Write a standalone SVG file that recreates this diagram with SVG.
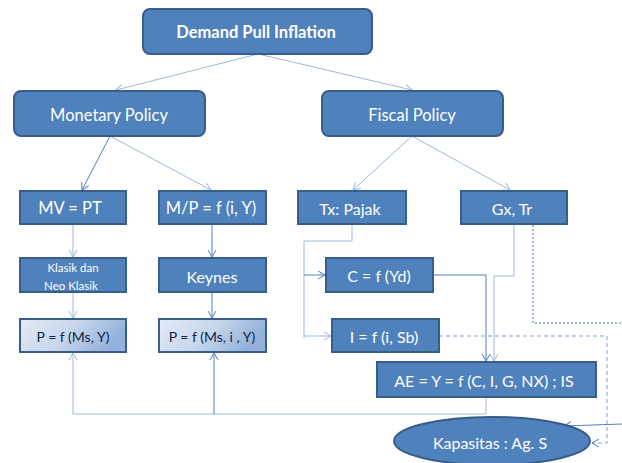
<svg xmlns="http://www.w3.org/2000/svg" width="622" height="463" viewBox="0 0 622 463">
<defs>
<linearGradient id="pg" x1="0" y1="0" x2="1" y2="0.3">
<stop offset="0" stop-color="#E4EBF5"/>
<stop offset="0.55" stop-color="#C6D6EC"/>
<stop offset="1" stop-color="#93B1DB"/>
</linearGradient>
<marker id="ah" markerWidth="10" markerHeight="10" refX="8" refY="5" orient="auto" markerUnits="userSpaceOnUse">
<path d="M1,1 L8,5 L1,9" fill="none" stroke="#4F81BD" stroke-width="1"/>
</marker>
<marker id="al" markerWidth="10" markerHeight="10" refX="8" refY="5" orient="auto" markerUnits="userSpaceOnUse">
<path d="M1,1 L8,5 L1,9" fill="none" stroke="#9DB9DD" stroke-width="1"/>
</marker>
</defs>
<style>
.box{fill:#4F81BD;stroke:#385D8A;stroke-width:2}
.pbox{fill:url(#pg);stroke:#385D8A;stroke-width:2}
.t{font-family:Lato,"Liberation Sans",sans-serif;fill:#fff;text-anchor:middle;dominant-baseline:central}
.td{font-family:Lato,"Liberation Sans",sans-serif;fill:#10253F;text-anchor:middle;dominant-baseline:central;font-size:14px}
.c{fill:none;stroke:#4F81BD;stroke-width:1}
.cl{fill:none;stroke:#9DB9DD;stroke-width:1}
.cd{fill:none;stroke:#7FA2D2;stroke-width:1.5;stroke-dasharray:2,2}
.cd2{fill:none;stroke:#7FA2D2;stroke-width:1;stroke-dasharray:4,3}
</style>
<g id="connectors">
<path class="cl" d="M258,54 L116,90" marker-end="url(#al)"/>
<path class="cl" d="M258,54 L412,90" marker-end="url(#al)"/>
<path class="c" d="M110,136 L82,190" marker-end="url(#ah)"/>
<path class="cl" d="M110,136 L211,190" marker-end="url(#al)"/>
<path class="cl" d="M412,136 L353,190" marker-end="url(#al)"/>
<path class="cl" d="M412,136 L510,190" marker-end="url(#al)"/>
<path class="cl" d="M73,224 L73,257" marker-end="url(#al)"/>
<path class="c" d="M212,224 L212,257" marker-end="url(#ah)"/>
<path class="cl" d="M73,292 L73,318" marker-end="url(#al)"/>
<path class="c" d="M212,292 L212,318" marker-end="url(#ah)"/>
<path class="cl" d="M352,224 L352,241 L304,241 L304,338"/>
<path class="c" d="M304,275 L325,275" marker-end="url(#ah)"/>
<path class="cl" d="M304,336 L331,336" marker-end="url(#al)"/>
<path class="c" d="M433,275 L486,275 L486,361" marker-end="url(#ah)"/>
<path class="cl" d="M514,224 L514,276 L494,276 L494,361" marker-end="url(#al)"/>
<path class="cd" d="M533,225 L533,323 L622,323"/>
<path class="cd2" d="M439,336 L607,336 L607,443 L592,443" marker-end="url(#ah)"/>
<path class="cl" d="M486,397 L486,414 L73,414 L73,353" marker-end="url(#al)"/>
<path class="c" d="M214,414 L214,353" marker-end="url(#ah)"/>
<path class="c" d="M622,424 L564,426" marker-end="url(#ah)"/>
</g>
<g id="n-demand"><rect class="box" x="143" y="9" width="229" height="45" rx="7"/><text class="t" x="256" y="32" font-size="16.5" font-weight="bold">Demand Pull Inflation</text></g>
<g id="n-monetary"><rect class="box" x="14" y="91" width="191" height="45" rx="7"/><text class="t" x="109" y="115" font-size="16.5">Monetary Policy</text></g>
<g id="n-fiscal"><rect class="box" x="322" y="91" width="181" height="45" rx="7"/><text class="t" x="412" y="115" font-size="16.5">Fiscal Policy</text></g>
<g id="n-mv"><rect class="box" x="20" y="191" width="106" height="33"/><text class="t" x="70" y="208" font-size="16.5">MV = PT</text></g>
<g id="n-mp"><rect class="box" x="159" y="191" width="107" height="33"/><text class="t" x="211" y="208" font-size="16.5">M/P = f (i, Y)</text></g>
<g id="n-klasik"><rect class="box" x="20" y="258" width="106" height="34"/><text class="t" x="73" y="267" font-size="11.5">Klasik  dan</text><text class="t" x="71" y="285" font-size="11.5">Neo Klasik</text></g>
<g id="n-keynes"><rect class="box" x="159" y="258" width="107" height="34"/><text class="t" x="212" y="276" font-size="16">Keynes</text></g>
<g id="n-p1"><rect class="pbox" x="20" y="319" width="106" height="33"/><text class="td" x="73" y="336">P = f (Ms, Y)</text></g>
<g id="n-p2"><rect class="pbox" x="159" y="319" width="107" height="33"/><text class="td" x="212" y="336">P = f (Ms, i , Y)</text></g>
<g id="n-tx"><rect class="box" x="298" y="191" width="108" height="33"/><text class="t" x="350" y="208" font-size="16">Tx: Pajak</text></g>
<g id="n-gx"><rect class="box" x="461" y="191" width="106" height="33"/><text class="t" x="512" y="208" font-size="16">Gx, Tr</text></g>
<g id="n-c"><rect class="box" x="326" y="258" width="107" height="34"/><text class="t" x="379" y="275" font-size="16">C = f (Yd)</text></g>
<g id="n-i"><rect class="box" x="332" y="319" width="107" height="33"/><text class="t" x="384" y="336" font-size="16">I = f (i, Sb)</text></g>
<g id="n-ae"><rect class="box" x="377" y="362" width="219" height="35"/><text class="t" x="484" y="380" font-size="16">AE = Y = f (C, I, G, NX) ; IS</text></g>
<g id="n-kap"><ellipse class="box" cx="492" cy="441" rx="98" ry="24"/><text class="t" x="490" y="442" font-size="16">Kapasitas : Ag. S</text></g>
</svg>
